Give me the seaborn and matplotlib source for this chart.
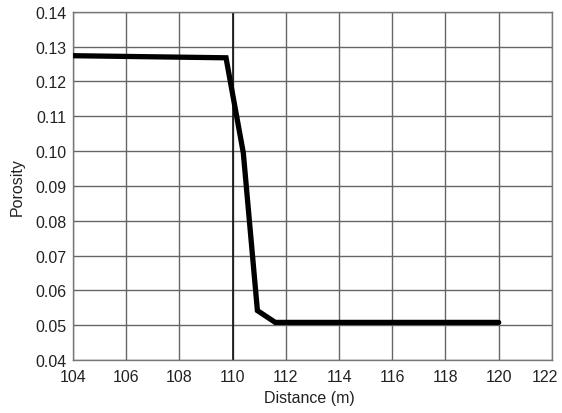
import matplotlib
matplotlib.use("Agg")
import matplotlib.pyplot as plt
import matplotlib.transforms as mtransforms
import seaborn as sns
import pandas as pd

distance = [104.0, 109.75, 110.4, 110.93, 111.6, 120.0]
porosity = [0.1274, 0.1268, 0.0995, 0.0542, 0.0508, 0.0508]
x_ticks = [104, 106, 108, 110, 112, 114, 116, 118, 120, 122]
y_ticks = [0.04, 0.05, 0.06, 0.07, 0.08, 0.09, 0.10, 0.11, 0.12, 0.13, 0.14]

sns.set_theme(style="white")
plt.rcParams['font.family'] = ['Liberation Sans', 'DejaVu Sans']

df = pd.DataFrame({"Distance": distance, "Porosity": porosity})

fig = plt.figure(figsize=(5.62, 4.14), dpi=100)
ax = fig.add_axes([0.130, 0.128, 0.852, 0.841])

ax.set_xlim(104, 122)
ax.set_ylim(0.04, 0.14)
ax.set_xticks(x_ticks)
ax.set_yticks(y_ticks)
ax.set_yticklabels([f"{v:.2f}" for v in y_ticks])
ax.grid(True, color="#666666", linewidth=1.0)
ax.set_axisbelow(True)
ax.axvline(110, color="#111111", linewidth=1.2, zorder=2)

sns.lineplot(data=df, x="Distance", y="Porosity", color="black", linewidth=3.8,
             ax=ax, zorder=3, solid_joinstyle="miter")

for s in ax.spines.values():
    s.set_color("#777777")
    s.set_linewidth(1.0)

ax.tick_params(axis="both", labelsize=11.5, colors="#222222", length=0)
ax.tick_params(axis="x", pad=6.5)
ax.tick_params(axis="y", pad=4.5)

# keep the last x label inside the figure
fig.canvas.draw()
last = ax.get_xticklabels()[-1]
last.set_transform(last.get_transform() + mtransforms.ScaledTranslation(-7 / 100, 0, fig.dpi_scale_trans))

ax.set_xlabel("Distance (m)", fontsize=11.5, color="#222222", va="center")
ax.xaxis.set_label_coords(0.493, -0.109)
ax.set_ylabel("Porosity", fontsize=11.5, color="#222222", va="center")
ax.yaxis.set_label_coords(-0.117, 0.5)

fig.savefig("out.png", dpi=100)
